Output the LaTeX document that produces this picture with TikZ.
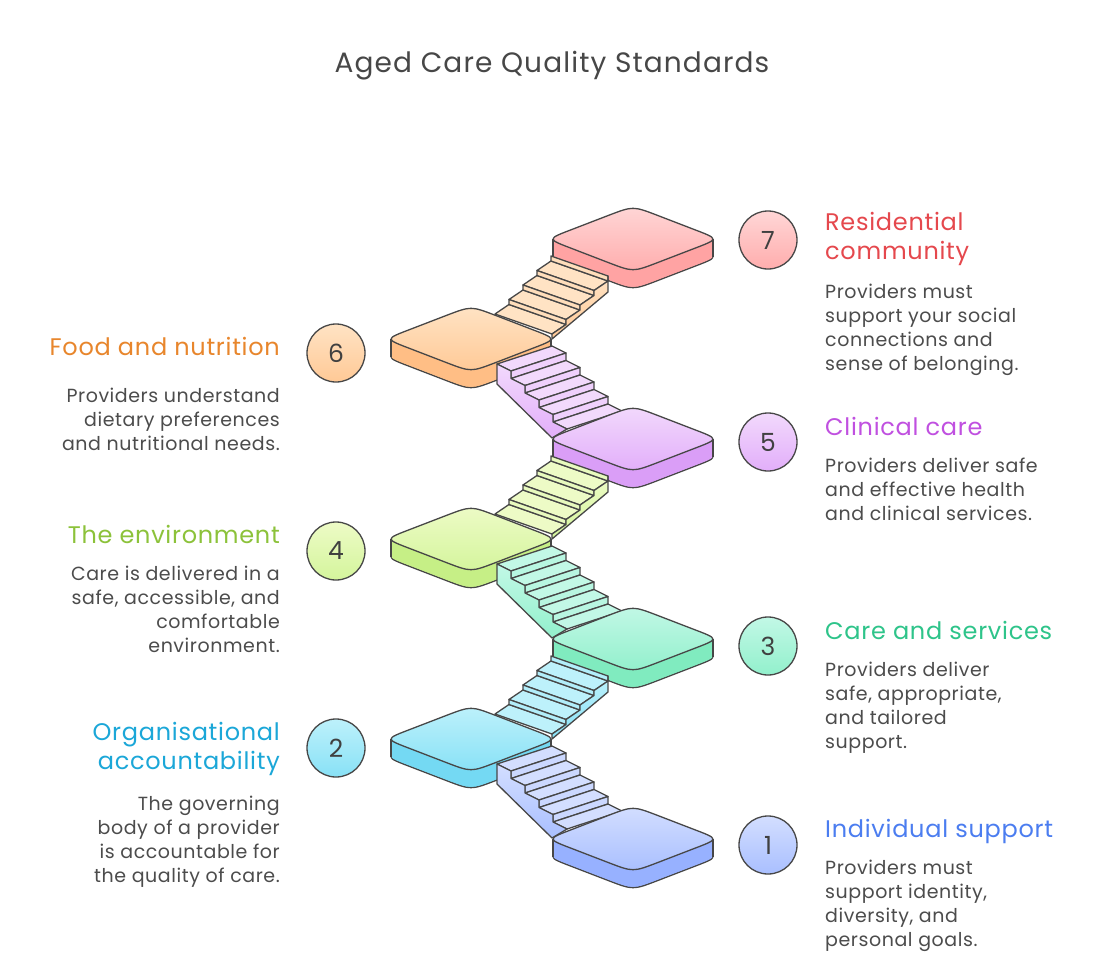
\documentclass[tikz,border=0pt]{standalone}
\usepackage{fontspec}
\setmainfont{Poppins}
\begin{document}
\begin{tikzpicture}[x=1pt,y=-1pt,line join=round,
  edge/.style={draw=black!72,line width=1.3pt},
  heading/.style={font=\fontsize{24}{29}\selectfont\addfontfeature{LetterSpace=3},inner sep=0pt},
  body/.style={font=\fontsize{19}{24}\selectfont\addfontfeature{LetterSpace=3},text=black!70,inner sep=0pt},
  numc/.style={circle,minimum size=58pt,edge,font=\fontsize{25}{25}\selectfont,text=black!75,inner sep=0pt}]
\definecolor{rA}{HTML}{FFD6D6}\definecolor{rB}{HTML}{FFADAD}\definecolor{rS}{HTML}{FFA3A3}\definecolor{rT}{HTML}{E5484D}
\definecolor{oA}{HTML}{FFE3C4}\definecolor{oB}{HTML}{FFC996}\definecolor{oS}{HTML}{FFBE85}\definecolor{oT}{HTML}{E8862C}
\definecolor{pA}{HTML}{F2D9FC}\definecolor{pB}{HTML}{E2AEFA}\definecolor{pS}{HTML}{DA9EF7}\definecolor{pT}{HTML}{C050E0}
\definecolor{lA}{HTML}{EDFBC6}\definecolor{lB}{HTML}{D4F59C}\definecolor{lS}{HTML}{C6EF86}\definecolor{lT}{HTML}{8CC23A}
\definecolor{gA}{HTML}{C2F8E6}\definecolor{gB}{HTML}{92F0CC}\definecolor{gS}{HTML}{80EBBF}\definecolor{gT}{HTML}{2EC48A}
\definecolor{cA}{HTML}{BDF1FB}\definecolor{cB}{HTML}{88E1F6}\definecolor{cS}{HTML}{74D9F3}\definecolor{cT}{HTML}{1BA7D8}
\definecolor{bA}{HTML}{D3DEFF}\definecolor{bB}{HTML}{A9BFFF}\definecolor{bS}{HTML}{97B1FF}\definecolor{bT}{HTML}{4B7DF0}
\useasboundingbox (0,0) rectangle (1104,961);
\fill[white] (0,0) rectangle (1104,961);
% rounded rhombus path (half width 86, half height 33)
\def\rh#1#2{({#1-61.7},{#2-9.3}) .. controls ({#1-86},{#2}) .. ({#1-61.7},{#2+9.3}) -- ({#1-24.3},{#2+23.7}) .. controls ({#1},{#2+33}) .. ({#1+24.3},{#2+23.7}) -- ({#1+61.7},{#2+9.3}) .. controls ({#1+86},{#2}) .. ({#1+61.7},{#2-9.3}) -- ({#1+24.3},{#2-23.7}) .. controls ({#1},{#2-33}) .. ({#1-24.3},{#2-23.7}) -- cycle}
\def\plat#1#2#3{%
  \path[edge,fill=#3S] \rh{#1}{#2+18};
  \foreach \k in {17,16,...,1} {\fill[#3S] \rh{#1}{#2+\k};}
  \draw[edge] ({#1-79.9},{#2}) -- ({#1-79.9},{#2+18});
  \draw[edge] ({#1+79.9},{#2}) -- ({#1+79.9},{#2+18});
  \path[edge,top color=#3A,bottom color=#3B] \rh{#1}{#2};}
% ascending stair from left platform (centre y #1) up to the right
\def\upstair#1#2{%
  \foreach \i in {3,2,1,0} {
    \pgfmathsetmacro\px{495+14*\i}\pgfmathsetmacro\py{#1-25-14.5*\i}
    \path[edge,fill=#2A] (\px,\py) -- ({\px+14},{\py-9.5}) -- ({\px+71},{\py+10.5}) -- ({\px+57},{\py+20}) -- cycle;
    \path[edge,fill=#2A!80!#2B] ({\px+14},{\py-9.5}) -- ({\px+14},{\py-14.5}) -- ({\px+71},{\py+5.5}) -- ({\px+71},{\py+10.5}) -- cycle;}
  \path[edge,top color=#2A,bottom color=#2B] (552,{#1-5}) -- (566,{#1-14.5}) -- (566,{#1-19.5}) -- (580,{#1-29}) -- (580,{#1-34}) -- (594,{#1-43.5}) -- (594,{#1-48.5}) -- (608,{#1-58}) -- (608,{#1-63}) -- (608,{#1-47}) -- (552,{#1}) -- cycle;}
% descending stair from left platform (centre y #1) down to the right
\def\downstair#1#2{%
  \foreach \i in {0,1,2,3,4} {
    \pgfmathsetmacro\px{497+14*\i}\pgfmathsetmacro\py{#1+25+14.5*\i}
    \path[edge,fill=#2A] (\px,\py) -- ({\px+14},{\py+7}) -- ({\px+69},{\py-11}) -- ({\px+55},{\py-18}) -- cycle;
    \ifnum\i<4
    \path[edge,fill=#2A!80!#2B] ({\px+14},{\py+7}) -- ({\px+14},{\py+14.5}) -- ({\px+69},{\py-3.5}) -- ({\px+69},{\py-11}) -- cycle;
    \fi}
  \path[edge,top color=#2A,bottom color=#2B] (497,{#1+25}) -- (511,{#1+32}) -- (511,{#1+39.5}) -- (525,{#1+46.5}) -- (525,{#1+54}) -- (539,{#1+61}) -- (539,{#1+68.5}) -- (553,{#1+75.5}) -- (553,{#1+83}) -- (567,{#1+90}) -- (552,{#1+99}) -- (497,{#1+45}) -- cycle;}
% staircase, back to front
\plat{633}{239}{r}
\upstair{339}{o}
\plat{471}{339}{o}
\downstair{339}{p}
\plat{633}{439}{p}
\upstair{539}{l}
\plat{471}{539}{l}
\downstair{539}{g}
\plat{633}{639}{g}
\upstair{739}{c}
\plat{471}{739}{c}
\downstair{739}{b}
\plat{633}{839}{b}
% circles
\node[numc,top color=rA,bottom color=rB] (n7) at (768,240) {7};
\node[numc,top color=oA,bottom color=oB] (n6) at (336,353) {6};
\node[numc,top color=pA,bottom color=pB] (n5) at (768,442) {5};
\node[numc,top color=lA,bottom color=lB] (n4) at (336,551) {4};
\node[numc,top color=gA,bottom color=gB] (n3) at (768,646) {3};
\node[numc,top color=cA,bottom color=cB] (n2) at (336,748) {2};
\node[numc,top color=bA,bottom color=bB] (n1) at (768,845) {1};
% title
\node[font=\fontsize{28}{32}\selectfont\addfontfeature{LetterSpace=4},text=black!72,inner sep=0pt] (title) at (552,66) {Aged Care Quality Standards};
% right texts
\node[heading,text=rT,anchor=north west,align=left] (h7) at (825,212) {Residential\\community};
\node[body,anchor=north west,align=left] (b7) at (825,284) {Providers must\\support your social\\connections and\\sense of belonging.};
\node[heading,text=pT,anchor=north west] (h5) at (825,417) {Clinical care};
\node[body,anchor=north west,align=left] (b5) at (825,458) {Providers deliver safe\\and effective health\\and clinical services.};
\node[heading,text=gT,anchor=north west] (h3) at (825,621) {Care and services};
\node[body,anchor=north west,align=left] (b3) at (825,662) {Providers deliver\\safe, appropriate,\\and tailored\\support.};
\node[heading,text=bT,anchor=north west] (h1) at (825,819) {Individual support};
\node[body,anchor=north west,align=left] (b1) at (825,860) {Providers must\\support identity,\\diversity, and\\personal goals.};
% left texts
\node[heading,text=oT,anchor=north east] (h6) at (280,337) {Food and nutrition};
\node[body,anchor=north east,align=right] (b6) at (280,388) {Providers understand\\dietary preferences\\and nutritional needs.};
\node[heading,text=lT,anchor=north east] (h4) at (280,525) {The environment};
\node[body,anchor=north east,align=right] (b4) at (280,566) {Care is delivered in a\\safe, accessible, and\\comfortable\\environment.};
\node[heading,text=cT,anchor=north east,align=right] (h2) at (280,722) {Organisational\\accountability};
\node[body,anchor=north east,align=right] (b2) at (280,796) {The governing\\body of a provider\\is accountable for\\the quality of care.};
\end{tikzpicture}
\end{document}
